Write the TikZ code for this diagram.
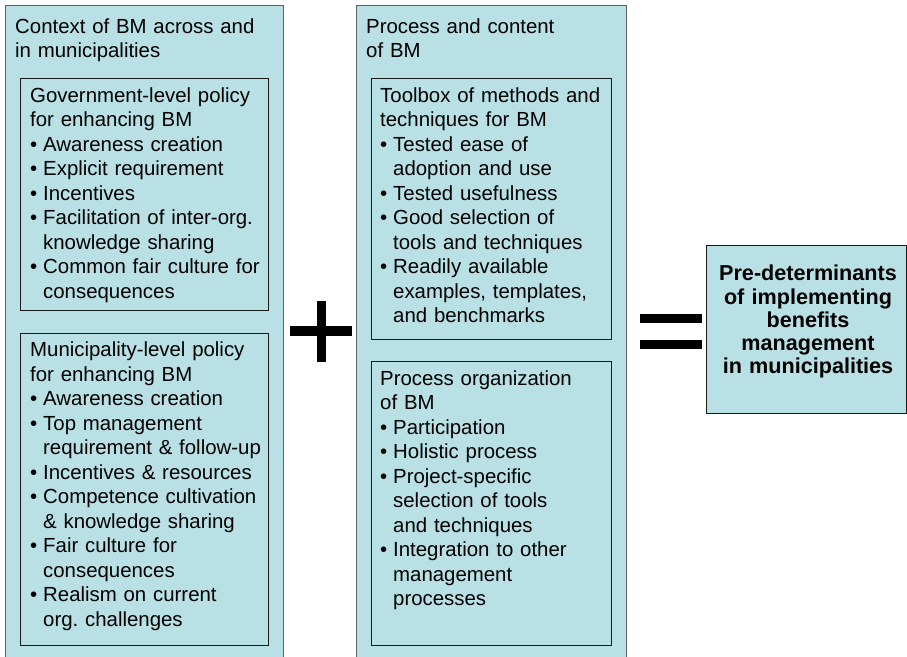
\documentclass[tikz,border=0pt]{standalone}
\usepackage{fontspec}
\setmainfont{Liberation Sans}
\frenchspacing
\definecolor{panel}{RGB}{185,224,228}
\definecolor{outerline}{RGB}{95,95,95}
\definecolor{innerline}{RGB}{25,25,25}
\newcommand{\itm}{\makebox[13pt][l]{•}}
\newcommand{\cnt}{\hspace*{13pt}}
\begin{document}
\begin{tikzpicture}[x=1pt,y=-1pt,
  outerbox/.style={draw=outerline,fill=panel,line width=1pt,inner sep=0pt,anchor=north west},
  innerbox/.style={draw=innerline,fill=panel,line width=0.9pt,inner sep=0pt,anchor=north west},
  bodytext/.style={anchor=base west,inner sep=0pt,text width=300pt,align=left,
    font=\fontsize{20.4}{24.5}\selectfont\frenchspacing,text=black},
  resulttext/.style={anchor=base,inner sep=0pt,text width=200pt,align=center,
    font=\fontsize{21.6}{23.3}\selectfont\bfseries,text=black},
  signbar/.style={fill=black}]
\useasboundingbox (0,0) rectangle (907,656);
\clip (0,0) rectangle (907,656);

% left column: context of benefits management
\node[outerbox,minimum width=277.7pt,minimum height=680pt] (ctx) at (5,5) {};
\node[innerbox,minimum width=248pt,minimum height=232pt] (gov) at (20,78) {};
\node[innerbox,minimum width=248pt,minimum height=312.6pt] (muni) at (20,332.7) {};

\node[bodytext] (ctxT) at (15,33) {Context of BM across and\\in municipalities};
\node[bodytext] (govT) at (30,102) {Government-level policy\\for enhancing BM\\
  \itm Awareness creation\\\itm Explicit requirement\\\itm Incentives\\
  \itm Facilitation of inter-org.\\\cnt knowledge sharing\\
  \itm Common fair culture for\\\cnt consequences};
\node[bodytext] (muniT) at (30,356.7) {Municipality-level policy\\for enhancing BM\\
  \itm Awareness creation\\\itm Top management\\\cnt requirement \& follow-up\\
  \itm Incentives \& resources\\\itm Competence cultivation\\\cnt \& knowledge sharing\\
  \itm Fair culture for\\\cnt consequences\\\itm Realism on current\\\cnt org. challenges};

% middle column: process and content of benefits management
\node[outerbox,minimum width=270.5pt,minimum height=680pt] (proc) at (355.5,5) {};
\node[innerbox,minimum width=240pt,minimum height=261pt] (tool) at (370.7,78) {};
\node[innerbox,minimum width=240.5pt,minimum height=284.3pt] (org) at (370.5,361) {};

\node[bodytext] (procT) at (366,33) {Process and content\\of BM};
\node[bodytext] (toolT) at (380,102) {Toolbox of methods and\\techniques for BM\\
  \itm Tested ease of\\\cnt adoption and use\\\itm Tested usefulness\\
  \itm Good selection of\\\cnt tools and techniques\\
  \itm Readily available\\\cnt examples, templates,\\\cnt and benchmarks};
\node[bodytext] (orgT) at (380,385) {Process organization\\of BM\\
  \itm Participation\\\itm Holistic process\\\itm Project-specific\\
  \cnt selection of tools\\\cnt and techniques\\
  \itm Integration to other\\\cnt management\\\cnt processes};

% outcome box
\node[outerbox,draw=innerline,minimum width=200pt,minimum height=168pt] (result) at (706,244.7) {};
\node[resulttext] (resultT) at (808,280.7) {Pre-determinants\\of implementing\\benefits\\management\\in municipalities};

% plus sign between the columns
\fill[signbar] (316.7,301) rectangle (326,362);
\fill[signbar] (290,326) rectangle (352,336);

% equals sign before the outcome
\fill[signbar] (640,314) rectangle (702,322.5);
\fill[signbar] (640,340) rectangle (702,349);
\end{tikzpicture}
\end{document}
